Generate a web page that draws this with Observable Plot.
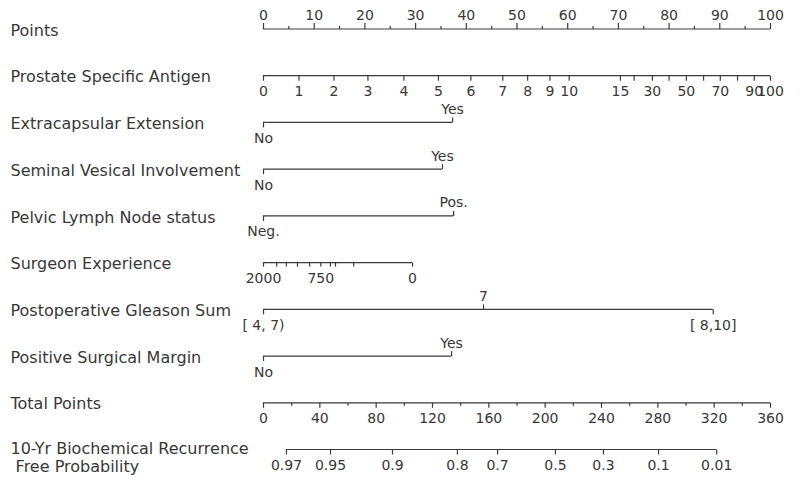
<!DOCTYPE html>
<html>
<head>
<meta charset="utf-8">
<script src="https://cdn.jsdelivr.net/npm/d3@7"></script>
<script src="https://cdn.jsdelivr.net/npm/@observablehq/plot@0.6"></script>
<style>
  html, body { margin: 0; padding: 0; background: #fff; }
  #chart svg { display: block; }
</style>
</head>
<body>
<div id="chart"></div>
<script>
// ---- data ----
const rowLabels = [
  "Points",
  "Prostate Specific Antigen",
  "Extracapsular Extension",
  "Seminal Vesical Involvement",
  "Pelvic Lymph Node status",
  "Surgeon Experience",
  "Postoperative Gleason Sum",
  "Positive Surgical Margin",
  "Total Points",
  "10-Yr Biochemical Recurrence\n\u00a0Free Probability"
];

const pointsTicks = [0, 10, 20, 30, 40, 50, 60, 70, 80, 90, 100];
const pointsMinor = [5, 15, 25, 35, 45, 55, 65, 75, 85, 95];

const psaLevels = ["0","1","2","3","4","5","6","7","8","9","10","15","20","30","40","50","60","70","80","90","100"];
const psaPoints = [0, 7.0, 13.9, 20.6, 27.7, 34.5, 40.9, 47.2, 52.1, 56.5, 60.3, 70.4, 73.1, 76.7, 80.0, 83.4, 86.8, 90.1, 93.5, 96.8, 100];
const psaShown  = ["0","1","2","3","4","5","6","7","8","9","10","15","30","50","70","90","100"];

const eceLevels = ["No", "Yes"];
const ecePoints = [0, 37.3];
const sviLevels = ["No", "Yes"];
const sviPoints = [0, 35.3];
const plnLevels = ["Neg.", "Pos."];
const plnPoints = [0, 37.5];

const surgLevels = ["2000","1750","1500","1250","1000","750","600","500","250","0"];
const surgPoints = [0, 2.6, 4.5, 6.7, 9.1, 11.3, 13.2, 14.2, 17.8, 29.4];
const surgShown  = ["2000", "750", "0"];

const gleasonLevels = ["[ 4, 7)", "7", "[ 8,10]"];
const gleasonPoints = [0, 43.4, 88.7];

const psmLevels = ["No", "Yes"];
const psmPoints = [0, 37.1];

const totalMax = 360;
const totalTicks = [0, 40, 80, 120, 160, 200, 240, 280, 320, 360];
const totalMinor = [20, 60, 100, 140, 180, 220, 260, 300, 340];

const probLevels = ["0.97","0.95","0.9","0.8","0.7","0.5","0.3","0.1","0.01"];
const probTotal  = [16.3, 47.6, 91.6, 137.7, 166.2, 207.3, 241.4, 280.5, 321.8];

// ---- build tables for the marks ----
const pointsMax = 100;
const toPts = tp => tp * pointsMax / totalMax;

const segments = [];
const ticks = [];   // {row, x, label, side, len}

function addAxis(row, values, labels, shown, side, len) {
  segments.push({row, x1: d3.min(values), x2: d3.max(values)});
  values.forEach((v, i) => ticks.push({row, x: v, label: shown.includes(labels[i]) ? labels[i] : "", side, len}));
}
function addCategorical(row, levels, pts) {
  segments.push({row, x1: d3.min(pts), x2: d3.max(pts)});
  levels.forEach((lv, i) => ticks.push({row, x: pts[i], label: lv, side: i % 2 === 0 ? "down" : "up", len: 5}));
}

segments.push({row: 0, x1: 0, x2: pointsMax});
pointsTicks.forEach(v => ticks.push({row: 0, x: v, label: String(v), side: "up", len: 6}));
pointsMinor.forEach(v => ticks.push({row: 0, x: v, label: "", side: "up", len: 3}));
addAxis(1, psaPoints, psaLevels, psaShown, "down", 5);
addCategorical(2, eceLevels, ecePoints);
addCategorical(3, sviLevels, sviPoints);
addCategorical(4, plnLevels, plnPoints);
addAxis(5, surgPoints, surgLevels, surgShown, "down", 4);
addCategorical(6, gleasonLevels, gleasonPoints);
addCategorical(7, psmLevels, psmPoints);
segments.push({row: 8, x1: 0, x2: pointsMax});
totalTicks.forEach(v => ticks.push({row: 8, x: toPts(v), label: String(v), side: "down", len: 5}));
totalMinor.forEach(v => ticks.push({row: 8, x: toPts(v), label: "", side: "down", len: 3}));
addAxis(9, probTotal.map(toPts), probLevels, probLevels, "down", 5);

// vertical tick symbols (length = r in pixels)
const tickUp = {draw(ctx, size) { const r = Math.sqrt(size / Math.PI); ctx.moveTo(0, 0); ctx.lineTo(0, -r); }};
const tickDown = {draw(ctx, size) { const r = Math.sqrt(size / Math.PI); ctx.moveTo(0, 0); ctx.lineTo(0, r); }};

const ink = "#383838";
const lineInk = "#3a3a3a";
const lastRow = rowLabels.length - 1;

const chart = Plot.plot({
  width: 800,
  height: 488,
  marginLeft: 263,
  marginRight: 30,
  marginTop: 28.5,
  marginBottom: 39,
  x: {domain: [0, pointsMax], axis: null},
  y: {domain: [0, lastRow], range: [28.5, 449], axis: null},
  r: {type: "identity"},
  style: {fontFamily: "'DejaVu Sans', sans-serif", background: "#fff", color: ink, overflow: "visible"},
  marks: [
    Plot.text(rowLabels.slice(0, lastRow), {
      y: (d, i) => i, text: d => d, frameAnchor: "left", dx: -253, dy: 1.5,
      textAnchor: "start", fontSize: 16, fill: ink
    }),
    Plot.text([rowLabels[lastRow]], {
      y: () => lastRow, text: d => d, frameAnchor: "left", dx: -253, dy: -8,
      textAnchor: "start", lineAnchor: "top", fontSize: 16, lineHeight: 1.12, fill: ink
    }),
    Plot.ruleY(segments, {y: "row", x1: "x1", x2: "x2", stroke: lineInk, strokeWidth: 1.2}),
    Plot.dot(ticks.filter(t => t.side === "up"), {x: "x", y: "row", r: "len", symbol: tickUp, fill: "none", stroke: lineInk, strokeWidth: 1.2}),
    Plot.dot(ticks.filter(t => t.side === "down"), {x: "x", y: "row", r: "len", symbol: tickDown, fill: "none", stroke: lineInk, strokeWidth: 1.2}),
    Plot.text(ticks.filter(t => t.side === "up" && t.label), {x: "x", y: "row", text: "label", dy: -13, fontSize: 14, fill: ink}),
    Plot.text(ticks.filter(t => t.side === "down" && t.label), {x: "x", y: "row", text: "label", dy: 16, fontSize: 14, fill: ink})
  ]
});
document.getElementById("chart").appendChild(chart);
</script>
</body>
</html>
